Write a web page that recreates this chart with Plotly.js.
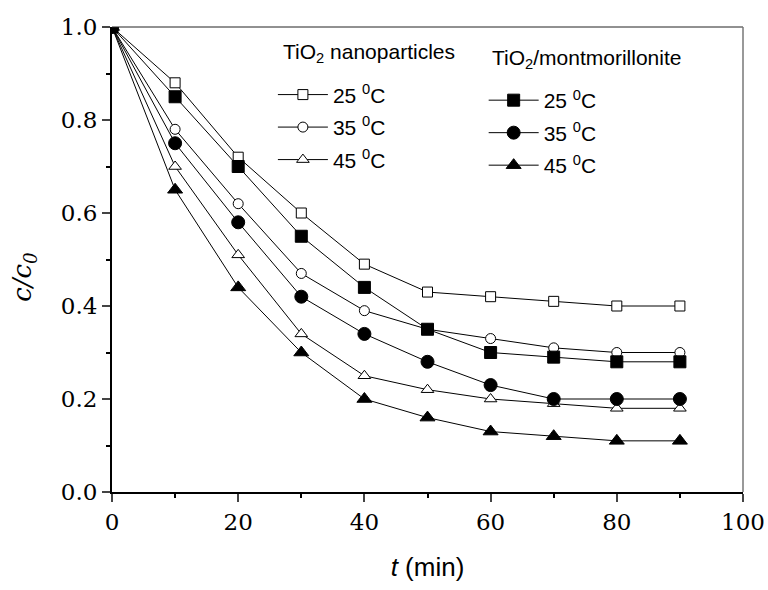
<!DOCTYPE html>
<html>
<head>
<meta charset="utf-8">
<script src="https://cdn.plot.ly/plotly-3.0.1.min.js"></script>
<style>html,body{margin:0;padding:0;background:#fff;}#chart{width:768px;height:590px;}</style>
</head>
<body>
<div id="chart"></div>
<script>
const time = [0, 10, 20, 30, 40, 50, 60, 70, 80, 90];
const nano25 = [1.0, 0.88, 0.72, 0.60, 0.49, 0.43, 0.42, 0.41, 0.40, 0.40];
const nano35 = [1.0, 0.78, 0.62, 0.47, 0.39, 0.35, 0.33, 0.31, 0.30, 0.30];
const nano45 = [1.0, 0.70, 0.51, 0.34, 0.25, 0.22, 0.20, 0.19, 0.18, 0.18];
const mont25 = [1.0, 0.85, 0.70, 0.55, 0.44, 0.35, 0.30, 0.29, 0.28, 0.28];
const mont35 = [1.0, 0.75, 0.58, 0.42, 0.34, 0.28, 0.23, 0.20, 0.20, 0.20];
const mont45 = [1.0, 0.65, 0.44, 0.30, 0.20, 0.16, 0.13, 0.12, 0.11, 0.11];
const tempLabels = ['25 <sup>0</sup>C', '35 <sup>0</sup>C', '45 <sup>0</sup>C'];
const groupTitles = ['TiO<sub>2</sub> nanoparticles', 'TiO<sub>2</sub>/montmorillonite'];

function tr(y, name, symbol, size, fill, legend, grp) {
  return {
    x: time, y: y, name: name, type: 'scatter', mode: 'lines+markers',
    line: {color: '#000', width: 1},
    marker: {symbol: symbol, size: size, color: fill, line: {color: '#000', width: 1}},
    legend: legend, legendgroup: grp
  };
}
const data = [
  tr(nano25, tempLabels[0], 'square', 10, '#fff', 'legend', 'a1'),
  tr(nano35, tempLabels[1], 'circle', 10, '#fff', 'legend', 'a2'),
  tr(nano45, tempLabels[2], 'triangle-up', 11, '#fff', 'legend', 'a3'),
  tr(mont25, tempLabels[0], 'square', 12, '#000', 'legend2', 'b1'),
  tr(mont35, tempLabels[1], 'circle', 13, '#000', 'legend2', 'b2'),
  tr(mont45, tempLabels[2], 'triangle-up', 13, '#000', 'legend2', 'b3')
];
const serif = '"DejaVu Serif", "Liberation Serif", "Times New Roman", Times, serif';
const sans = '"Liberation Sans", Arial, sans-serif';
const legendBase = {
  bgcolor: 'rgba(0,0,0,0)', borderwidth: 0, font: {family: sans, size: 21, color: '#000'},
  xanchor: 'left', yanchor: 'top', itemwidth: 50, tracegroupgap: 2.2, traceorder: 'grouped'
};
const layout = {
  width: 768, height: 590,
  margin: {l: 112, r: 25, t: 27, b: 98},
  paper_bgcolor: '#fff', plot_bgcolor: '#fff',
  showlegend: true,
  legend: Object.assign({}, legendBase, {x: 0.255, y: 0.898}),
  legend2: Object.assign({}, legendBase, {x: 0.589, y: 0.886}),
  xaxis: {
    range: [0, 100], tick0: 0, dtick: 20, ticks: 'outside', ticklen: 8, tickwidth: 2,
    showline: true, linecolor: '#000', linewidth: 2, showgrid: false, zeroline: false,
    minor: {dtick: 10, ticks: 'outside', ticklen: 4, tickwidth: 2, tickcolor: '#000'},
    tickfont: {family: serif, size: 23, color: '#000'},
    title: {text: '<i>t</i> (min)', font: {family: sans, size: 26, color: '#000'}, standoff: 24}
  },
  yaxis: {
    range: [0, 1], tick0: 0, dtick: 0.2, tickformat: '.1f', ticks: 'outside', ticklen: 8, tickwidth: 2,
    showline: true, linecolor: '#000', linewidth: 2, showgrid: false, zeroline: false,
    minor: {dtick: 0.1, ticks: 'outside', ticklen: 4, tickwidth: 2, tickcolor: '#000'},
    tickfont: {family: serif, size: 23, color: '#000'}
  },
  annotations: [
    {text: '<i>c/c<sub>0</sub></i>', textangle: -90, xref: 'paper', yref: 'paper',
     x: -0.14, y: 0.462, xanchor: 'center', yanchor: 'middle', showarrow: false,
     font: {family: serif, size: 26, color: '#000'}},
    {text: groupTitles[0], xref: 'paper', yref: 'paper', x: 0.268, y: 0.944,
     xanchor: 'left', yanchor: 'middle', showarrow: false, font: {family: sans, size: 21, color: '#000'}},
    {text: groupTitles[1], xref: 'paper', yref: 'paper', x: 0.599, y: 0.931,
     xanchor: 'left', yanchor: 'middle', showarrow: false, font: {family: sans, size: 21, color: '#000'}}
  ],
  shapes: [
    {type: 'line', xref: 'paper', yref: 'paper', x0: 0, x1: 1, y0: 1, y1: 1, line: {color: '#222', width: 1}},
    {type: 'line', xref: 'paper', yref: 'paper', x0: 1, x1: 1, y0: 0, y1: 1, line: {color: '#777', width: 1.5}}
  ]
};
Plotly.newPlot('chart', data, layout, {displayModeBar: false, staticPlot: true});
</script>
</body>
</html>
